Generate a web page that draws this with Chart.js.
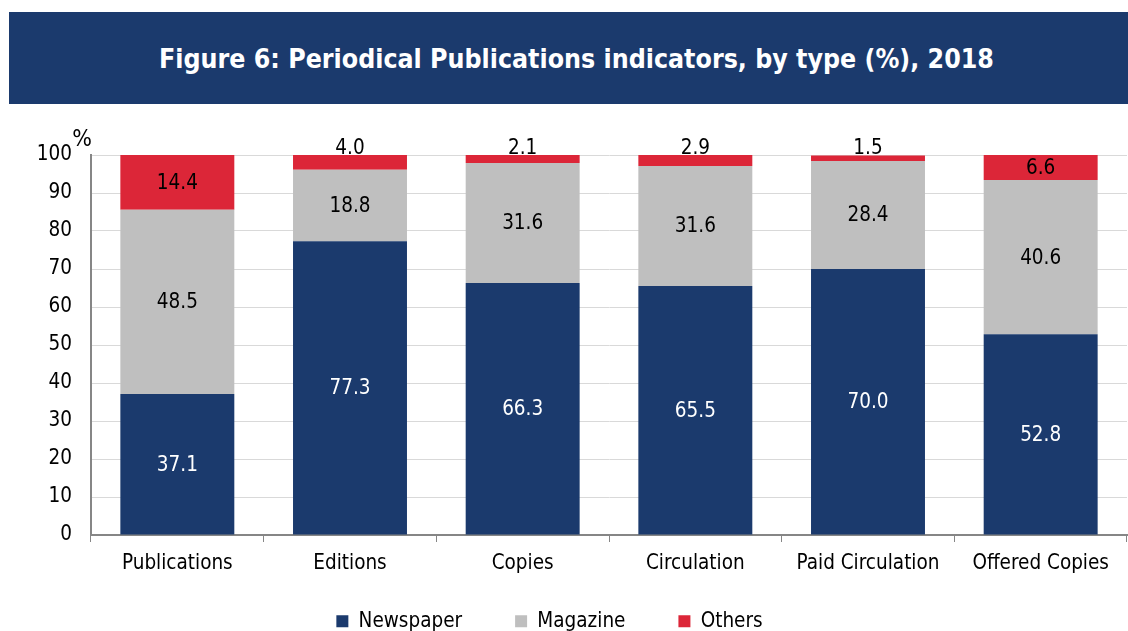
<!DOCTYPE html>
<html>
<head>
<meta charset="utf-8">
<script src="https://cdn.jsdelivr.net/npm/chart.js@4.4.0/dist/chart.umd.min.js"></script>
<style>
  body { margin: 0; background: #fff; width: 1128px; height: 631px; overflow: hidden; position: relative; font-family: "DejaVu Sans Condensed", "DejaVu Sans", sans-serif; }
  #banner { position: absolute; left: 9px; top: 12px; width: 1119px; height: 92px; background: #1b3a6d; color: #fff;
    font-weight: bold; font-size: 26.5px; display: flex; align-items: center; justify-content: center;
    padding: 1px 0 0 16px; box-sizing: border-box; }
  #wrap { position: absolute; left: 0; top: 110px; width: 1128px; height: 521px; }
</style>
</head>
<body>
<div id="banner">Figure 6: Periodical Publications indicators, by type (%), 2018</div>
<div id="wrap"><canvas id="chart" width="1128" height="521"></canvas></div>
<script>
const categories = ['Publications', 'Editions', 'Copies', 'Circulation', 'Paid Circulation', 'Offered Copies'];
const newspaper = [37.1, 77.3, 66.3, 65.5, 70.0, 52.8];
const magazine = [48.5, 18.8, 31.6, 31.6, 28.4, 40.6];
const others = [14.4, 4.0, 2.1, 2.9, 1.5, 6.6];
const yTicks = [0, 10, 20, 30, 40, 50, 60, 70, 80, 90, 100];

const FONT = '"DejaVu Sans Condensed", "DejaVu Sans", sans-serif';
const FS = 20.5;

// value labels on each segment
const barLabels = {
    id: 'barLabels',
    afterDatasetsDraw(chart) {
        const ctx = chart.ctx;
        ctx.save();
        ctx.font = FS + 'px ' + FONT;
        ctx.textAlign = 'center';
        chart.data.datasets.forEach((ds, di) => {
            const meta = chart.getDatasetMeta(di);
            meta.data.forEach((bar, i) => {
                const v = ds.data[i];
                const top = Math.min(bar.y, bar.base);
                const h = Math.abs(bar.base - bar.y);
                ctx.fillStyle = di === 0 ? '#ffffff' : '#000000';
                if (h < 20) {
                    ctx.textBaseline = 'bottom';
                    ctx.fillStyle = '#000000';
                    ctx.fillText(v.toFixed(1), bar.x, top + 4);
                } else {
                    ctx.textBaseline = 'middle';
                    ctx.fillText(v.toFixed(1), bar.x, top + h / 2 + 1);
                }
            });
        });
        // the % unit above the y axis
        ctx.fillStyle = '#000';
        ctx.font = '23px ' + FONT;
        ctx.textBaseline = 'alphabetic';
        ctx.fillText('%', 82, 36);
        ctx.restore();
    }
};

// keep the wide legend spacing without the tall legend box
const legendPlace = {
    id: 'legendPlace',
    beforeLayout(chart) {
        const lg = chart.legend;
        if (lg && !lg._patched) {
            const fit = lg.fit;
            lg.fit = function () { fit.call(this); this.height = 50; };
            lg._patched = true;
        }
    },
    afterLayout(chart) {
        const lg = chart.legend;
        lg.top = 448;
        lg.left -= 28;
    }
};

new Chart(document.getElementById('chart'), {
    type: 'bar',
    data: {
        labels: categories,
        datasets: [
            { label: 'Newspaper', data: newspaper, backgroundColor: '#1b3a6d' },
            { label: 'Magazine', data: magazine, backgroundColor: '#bfbfbf' },
            { label: 'Others', data: others, backgroundColor: '#dc2638' }
        ]
    },
    options: {
        responsive: false,
        animation: false,
        layout: { padding: { top: 45, right: 1, left: 0, bottom: 0 } },
        datasets: { bar: { categoryPercentage: 1, barPercentage: 0.66 } },
        plugins: {
            legend: {
                position: 'bottom',
                labels: {
                    boxWidth: 12, boxHeight: 12, padding: 53,
                    color: '#000', font: { family: FONT, size: FS }
                }
            },
            tooltip: { enabled: false }
        },
        scales: {
            x: {
                stacked: true,
                afterFit(scale) { scale.height = 46; },
                grid: { drawOnChartArea: false, drawTicks: true, tickLength: 7, color: '#868686', offset: true },
                border: { color: '#868686', width: 2 },
                ticks: { color: '#000', font: { family: FONT, size: FS }, padding: 9 }
            },
            y: {
                stacked: true,
                min: 0, max: 100,
                afterFit(scale) { scale.width = 91; },
                afterBuildTicks(scale) { scale.ticks = yTicks.map(v => ({ value: v })); },
                grid: { color: '#d9d9d9', drawTicks: false },
                border: { color: '#868686', width: 2 },
                ticks: { color: '#000', font: { family: FONT, size: FS }, padding: 19 }
            }
        }
    },
    plugins: [barLabels, legendPlace]
});
</script>
</body>
</html>
